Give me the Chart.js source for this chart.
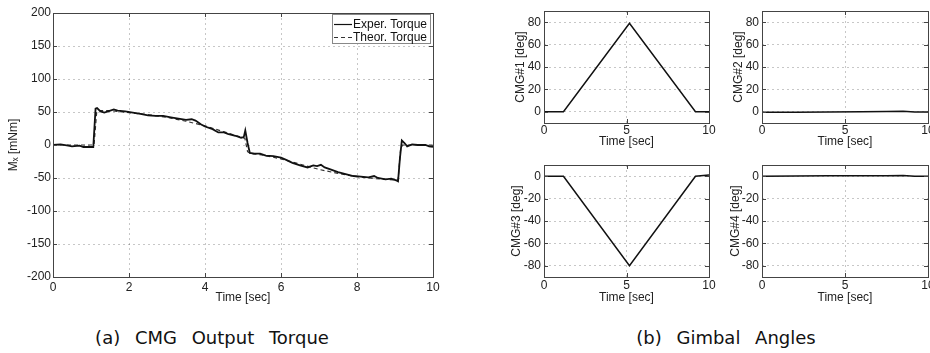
<!DOCTYPE html>
<html>
<head>
<meta charset="utf-8">
<script src="https://cdn.jsdelivr.net/npm/chart.js@4.4.1/dist/chart.umd.min.js"></script>
<style>
body { margin:0; background:#fff; width:930px; height:353px; overflow:hidden; position:relative; }
canvas { position:absolute; }
.cap { position:absolute; width:300px; text-align:center; font-family:"DejaVu Sans", sans-serif; font-size:18px; color:#111; word-spacing:9px; white-space:nowrap; }
</style>
</head>
<body>
<canvas id="torque" width="460" height="310" style="left:0;top:0"></canvas>
<canvas id="g1" width="215" height="150" style="left:505px;top:0"></canvas>
<canvas id="g2" width="207" height="150" style="left:723px;top:0"></canvas>
<canvas id="g3" width="215" height="160" style="left:505px;top:150px"></canvas>
<canvas id="g4" width="207" height="160" style="left:723px;top:150px"></canvas>
<div class="cap" style="left:62px;top:327px">(a) CMG Output Torque</div>
<div class="cap" style="left:576px;top:327px">(b) Gimbal Angles</div>
<script>
// torque plot
var torqueTicksX = [0, 2, 4, 6, 8, 10];
var torqueTicksY = [-200, -150, -100, -50, 0, 50, 100, 150, 200];
var expTime = [0, 0.2, 0.4, 0.5, 0.7, 0.8, 1.0, 1.06, 1.12, 1.16, 1.25, 1.35, 1.45, 1.6, 1.7, 1.9, 2.1, 2.3, 2.5, 2.7, 2.9, 3.1, 3.3, 3.5, 3.65, 3.75, 3.9, 4.0, 4.2, 4.35, 4.5, 4.6, 4.8, 4.95, 5.02, 5.06, 5.12, 5.18, 5.3, 5.45, 5.6, 5.8, 6.0, 6.15, 6.3, 6.5, 6.7, 6.85, 6.95, 7.05, 7.15, 7.3, 7.5, 7.7, 7.9, 8.1, 8.3, 8.45, 8.55, 8.75, 8.9, 9.05, 9.08, 9.13, 9.18, 9.25, 9.32, 9.45, 9.6, 9.8, 9.9, 10];
var expTorque = [0, 1, -1, -2, -1, -3, -3, -3, 55, 56, 51, 49, 51, 54, 52, 51, 49, 47, 45, 44, 44, 42, 40, 38, 39, 37, 31, 28, 24, 19, 19, 17, 14, 11, 12, 22, 3, -12, -13, -13, -16, -17, -19, -23, -27, -31, -34, -31, -32, -30, -34, -37, -41, -44, -47, -48, -49, -47, -50, -52, -51, -54, -55, -20, 7, 3, -2, 1, 0, 0, -2, -3];
var theoTime = [0, 1.08, 1.15, 1.2, 1.5, 2.0, 2.5, 3.0, 3.5, 4.0, 4.5, 5.0, 5.05, 5.12, 5.2, 5.5, 6.0, 6.5, 7.0, 7.5, 8.0, 8.5, 9.0, 9.08, 9.15, 9.2, 10];
var theoTorque = [0, 0, 50, 52, 52, 49, 46, 42, 36, 29, 20, 11, 10, -10, -13, -15, -21, -29, -37, -43, -48, -51, -53, -53, -5, 0, 0];

// gimbal plots
var gimbalTicksX = [0, 5, 10];
var upperTicksY = [0, 20, 40, 60, 80];
var lowerTicksY = [-80, -60, -40, -20, 0];
var gimbalTime = [0, 1.18, 5.18, 9.18, 10];
var cmg1 = [0, 0, 79, 0, 0];
var cmg3 = [0, 0, -80, 0, 1];
var flatTime = [0, 2, 4, 6, 7.5, 8.5, 9.2, 10];
var cmg2 = [-0.5, -0.4, -0.2, 0, 0.3, 0.6, -0.2, -0.2];
var cmg4 = [0, 0.2, 0.3, 0.4, 0.5, 0.7, 0, 0];

Chart.defaults.font.family = '"Liberation Sans", Arial, sans-serif';
Chart.defaults.font.size = 12;
Chart.defaults.color = '#222';

var gridColor = 'rgba(0,0,0,0.22)';

function pts(ts, vs) {
  return ts.map(function(t, i) { return {x: t, y: vs[i]}; });
}

// box round the plot + matlab style inner ticks
var frame = {
  id: 'frame',
  afterDatasetsDraw: function(chart) {
    var a = chart.chartArea, ctx = chart.ctx;
    var sx = chart.scales.x, sy = chart.scales.y;
    ctx.save();
    ctx.setLineDash([]);
    ctx.strokeStyle = '#444';
    ctx.lineWidth = 1;
    ctx.beginPath();
    sx.ticks.forEach(function(t) {
      var px = Math.round(sx.getPixelForValue(t.value)) + 0.5;
      ctx.moveTo(px, a.bottom); ctx.lineTo(px, a.bottom - 4);
      ctx.moveTo(px, a.top); ctx.lineTo(px, a.top + 4);
    });
    sy.ticks.forEach(function(t) {
      var py = Math.round(sy.getPixelForValue(t.value)) + 0.5;
      ctx.moveTo(a.left, py); ctx.lineTo(a.left + 4, py);
      ctx.moveTo(a.right, py); ctx.lineTo(a.right - 4, py);
    });
    ctx.stroke();
    ctx.strokeRect(Math.round(a.left) + 0.5, Math.round(a.top) + 0.5, Math.round(a.right - a.left), Math.round(a.bottom - a.top));
    ctx.restore();
  }
};

var torqueLegend = {
  id: 'torqueLegend',
  afterDraw: function(chart) {
    var a = chart.chartArea, ctx = chart.ctx;
    var w = 98, h = 29, x0 = Math.round(a.right) - 101, y0 = Math.round(a.top) + 1;
    ctx.save();
    ctx.fillStyle = '#fff';
    ctx.fillRect(x0, y0, w, h);
    ctx.setLineDash([]);
    ctx.strokeStyle = '#888';
    ctx.lineWidth = 1;
    ctx.strokeRect(x0 + 0.5, y0 + 0.5, w, h);
    ctx.font = '12px "Liberation Sans", Arial, sans-serif';
    ctx.textBaseline = 'middle';
    chart.data.datasets.forEach(function(ds, i) {
      var y = y0 + 10 + i * 13;
      ctx.strokeStyle = ds.borderColor;
      ctx.lineWidth = 1.2;
      ctx.setLineDash(ds.borderDash || []);
      ctx.beginPath();
      ctx.moveTo(x0 + 2, y + 0.5); ctx.lineTo(x0 + 20, y + 0.5);
      ctx.stroke();
      ctx.fillStyle = '#111';
      ctx.fillText(ds.label, x0 + 21, y + 1);
    });
    ctx.restore();
  }
};

function plot(id, datasets, c, extra) {
  return new Chart(document.getElementById(id), {
    type: 'line',
    data: { datasets: datasets },
    options: {
      responsive: false,
      animation: false,
      events: [],
      layout: { padding: { top: c.top, right: c.right, left: 0, bottom: 0 } },
      plugins: { legend: { display: false }, tooltip: { enabled: false } },
      elements: { point: { radius: 0 }, line: { tension: 0 } },
      scales: {
        x: {
          type: 'linear', min: c.xmin, max: c.xmax,
          afterBuildTicks: function(s) { s.ticks = c.xticks.map(function(v) { return {value: v}; }); },
          afterFit: function(s) { s.height = c.xh; s.paddingLeft = 0; s.paddingRight = 0; },
          grid: { color: gridColor, drawTicks: false },
          border: { display: false, dash: [2, 3] },
          ticks: { padding: c.xpad, maxRotation: 0, autoSkip: false },
          title: { display: true, text: 'Time [sec]', padding: { top: 0, bottom: c.xtpad } }
        },
        y: {
          type: 'linear', min: c.ymin, max: c.ymax,
          afterBuildTicks: function(s) { s.ticks = c.yticks.map(function(v) { return {value: v}; }); },
          afterFit: function(s) { s.width = c.yw; s.paddingTop = 0; s.paddingBottom = 0; },
          grid: { color: gridColor, drawTicks: false },
          border: { display: false, dash: [2, 3] },
          ticks: { padding: c.ypad, autoSkip: false },
          title: { display: true, text: c.ytitle, padding: { top: c.ytpad, bottom: 0 } }
        }
      }
    },
    plugins: [frame].concat(extra || [])
  });
}

plot('torque', [
  { label: 'Exper. Torque', data: pts(expTime, expTorque), borderColor: '#111', borderWidth: 1.8 },
  { label: 'Theor. Torque', data: pts(theoTime, theoTorque), borderColor: '#333', borderWidth: 1.2, borderDash: [4, 3] }
], { top: 13, right: 27, xmin: 0, xmax: 10, xticks: torqueTicksX, xh: 33, xpad: 3, xtpad: 5,
     ymin: -200, ymax: 200, yticks: torqueTicksY, yw: 53, ypad: 2, ytitle: 'M\u2093 [mNm]', ytpad: 6 }, [torqueLegend]);

function gimbal(id, ts, vs, name, upper, right, ytpad) {
  plot(id, [
    { label: name, data: pts(ts, vs), borderColor: '#111', borderWidth: 1.5 }
  ], { top: upper ? 11 : 15, right: right, xmin: 0, xmax: 10, xticks: gimbalTicksX,
       xh: upper ? 27 : 33, xpad: upper ? 0 : 1, xtpad: upper ? 1 : 5,
       ymin: upper ? -10 : -90, ymax: upper ? 90 : 10, yticks: upper ? upperTicksY : lowerTicksY,
       yw: 39, ypad: 3, ytitle: name + ' [deg]', ytpad: ytpad });
}

gimbal('g1', gimbalTime, cmg1, 'CMG#1', true, 11, 8);
gimbal('g2', flatTime, cmg2, 'CMG#2', true, 2, 8);
gimbal('g3', gimbalTime, cmg3, 'CMG#3', false, 11, 4);
gimbal('g4', flatTime, cmg4, 'CMG#4', false, 2, 5);
</script>
</body>
</html>
